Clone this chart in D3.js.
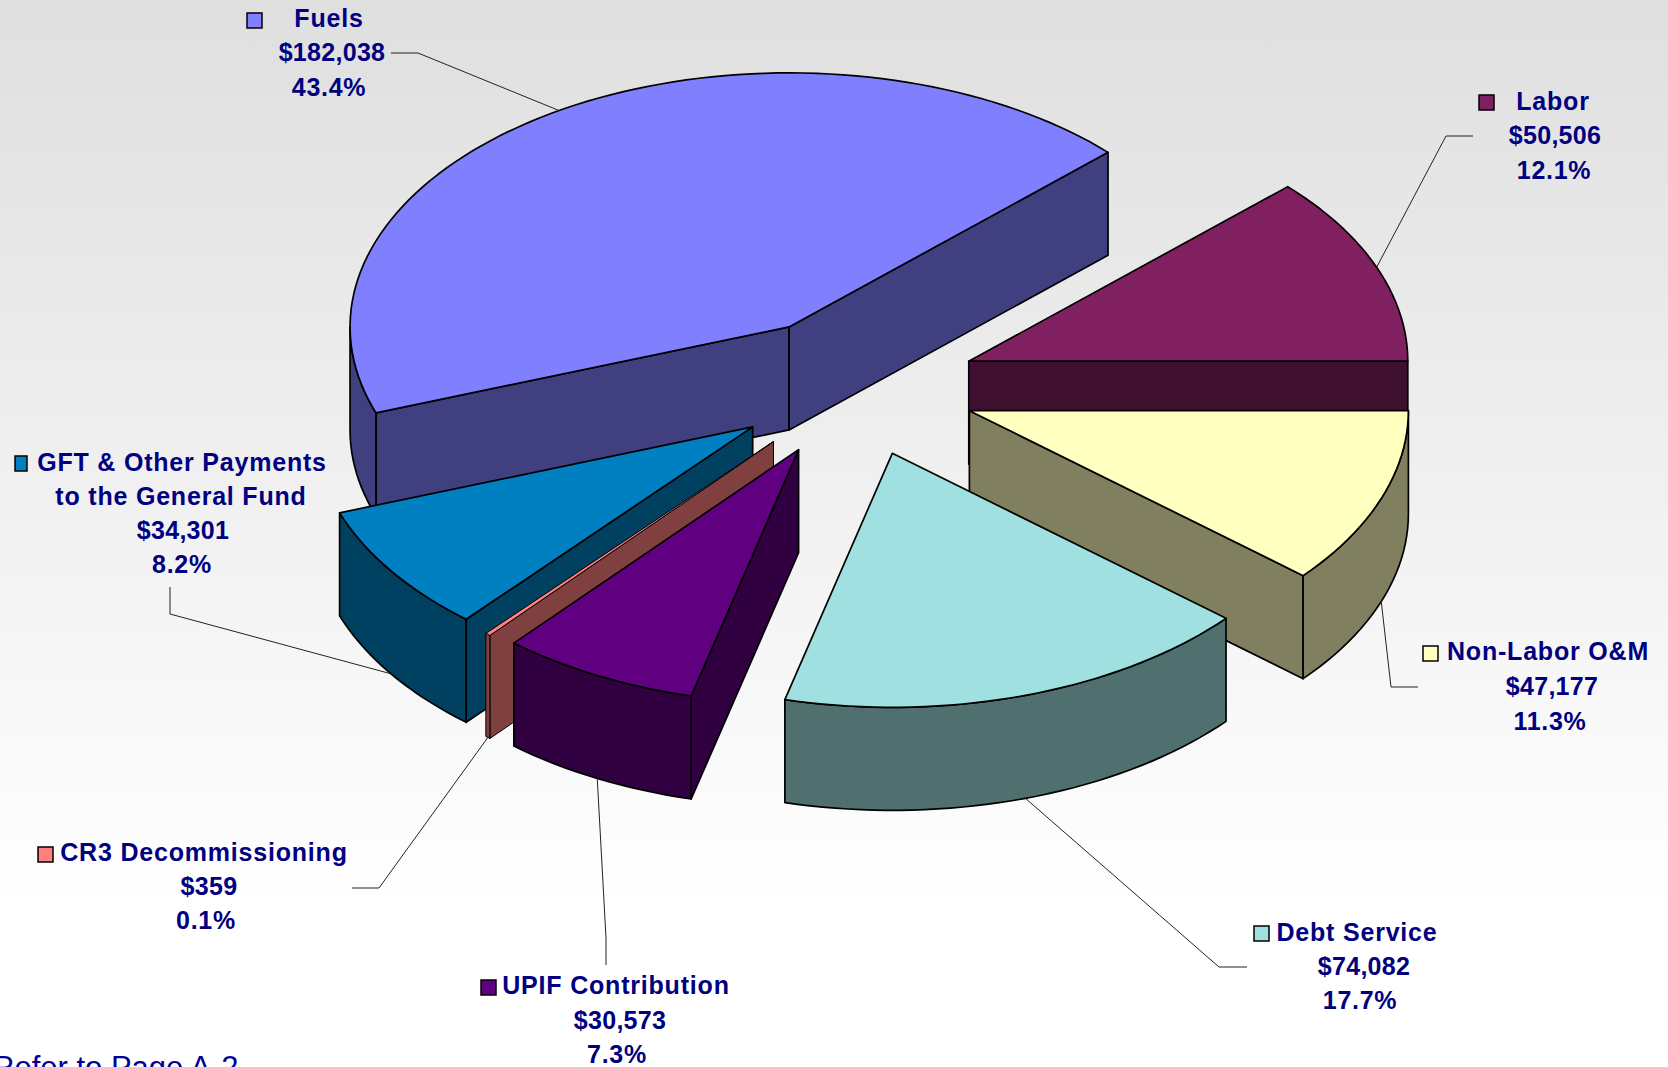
<!DOCTYPE html>
<html>
<head>
<meta charset="utf-8">
<script src="https://cdn.jsdelivr.net/npm/d3@7"></script>
<style>
	html, body { margin: 0; padding: 0; background: #fff; overflow: hidden; }
	svg { display: block; }
	.lbl { font-family: "Liberation Sans", Arial, sans-serif; font-weight: bold; font-size: 25px; fill: #000080; text-anchor: middle; }
	.note { font-family: "Liberation Sans", Arial, sans-serif; font-size: 31px; fill: #000099; }
</style>
</head>
<body>
<div id="chart"></div>
<script>
// data, clockwise in the order the pie is laid out
const categories = ['Labor', 'Non-Labor O&M', 'Debt Service', 'UPIF Contribution', 'CR3 Decommissioning', 'GFT & Other Payments', 'Fuels'];
const amounts = [50506, 47177, 74082, 30573, 359, 34301, 182038];
const colors = ['#802060', '#ffffc0', '#a0e0e0', '#600080', '#ff8080', '#0080c0', '#8080ff'];

// label placement, one entry per category: swatch corner and width, then centre of each text line
const labelTitles = [['Labor'], ['Non-Labor O&M'], ['Debt Service'], ['UPIF Contribution'], ['CR3 Decommissioning'], ['GFT & Other Payments', 'to the General Fund'], ['Fuels']];
const swatches = [[1479, 95, 15], [1423, 646, 15], [1254, 926, 15], [481, 980, 15], [38, 847, 15], [15, 456, 12], [247, 13, 15]];
const lineSpots = [
	[[1553, 101], [1555, 135], [1554, 170]],
	[[1548, 651], [1552, 686], [1550, 721]],
	[[1357, 932], [1364, 966], [1360, 1000]],
	[[616, 985], [620, 1020], [617, 1054]],
	[[204, 852], [209, 886], [206, 920]],
	[[182, 462], [181, 496], [183, 530], [182, 564]],
	[[329, 18], [332, 52], [329, 87]]
];
// leader lines: outer end, then elbow. the last point comes from the slice itself
const leaders = [
	[[1473, 136], [1446, 136]],
	[[1418, 687], [1391, 687]],
	[[1247, 967], [1219, 967]],
	[[606, 965], [606, 938]],
	[[352, 888], [379, 888]],
	[[170, 587], [170, 614]],
	[[391, 53], [418, 53]]
];
// small per-slice corrections to the exploded position
const nudges = [[1, 0], [0.5, -1.5], [1.5, -2], [1.5, -1], [0, 0], [0.5, -1], [0, 0]];

const width = 1668, height = 1067;
const cx = 853.5, cy = 387.5;	// pie centre before exploding
const rx = 439, ry = 254;	// top ellipse
const explode = 123;
const depth = 103;
const startDeg = 46.6;		// d3 angle of the first slice
const minSweep = 0.7 * Math.PI / 180;	// keeps the tiny CR3 slice visible

const total = d3.sum(amounts);
const fmtMoney = d3.format('$,');
const fmtPct = d3.format('.1%');

const svg = d3.select('#chart').append('svg').attr('width', width).attr('height', height);

// background
const grad = svg.append('defs').append('linearGradient')
	.attr('id', 'bg').attr('x1', 0).attr('y1', 0).attr('x2', 0).attr('y2', 1);
grad.append('stop').attr('offset', 0).attr('stop-color', '#dfdfdf');
grad.append('stop').attr('offset', 0.85).attr('stop-color', '#ffffff');
svg.append('rect').attr('width', width).attr('height', height).attr('fill', 'url(#bg)');

const pie = d3.pie().sort(null).startAngle(startDeg * Math.PI / 180).endAngle((startDeg + 360) * Math.PI / 180);
const slices = pie(amounts).map((d, i) => {
	// screen angle, 0 = 3 o'clock, growing clockwise
	const mid = (d.startAngle + d.endAngle) / 2 - Math.PI / 2;
	const half = Math.max((d.endAngle - d.startAngle) / 2, minSweep / 2);
	return {
		i, a0: mid - half, a1: mid + half, mid,
		ox: cx + explode * Math.cos(mid) + nudges[i][0],
		oy: cy + explode * (ry / rx) * Math.sin(mid) + nudges[i][1]
	};
});

const rim = (s, a, dz) => [s.ox + rx * Math.cos(a), s.oy + ry * Math.sin(a) + (dz || 0)];
const sweep = (s, a0, a1, dz) => {
	const n = Math.max(2, Math.ceil((a1 - a0) / 0.03));
	return d3.range(n + 1).map(k => rim(s, a0 + (a1 - a0) * k / n, dz));
};
const line = d3.line();
const shade = c => { const r = d3.rgb(c); return d3.rgb(r.r / 2, r.g / 2, r.b / 2).formatHex(); };

function sideFaces(s) {
	const faces = [];
	// radial walls, only when they face the viewer
	if (Math.sin(s.a0 - Math.PI / 2) > 0) {
		faces.push([[s.ox, s.oy], rim(s, s.a0), rim(s, s.a0, depth), [s.ox, s.oy + depth]]);
	}
	if (Math.sin(s.a1 + Math.PI / 2) > 0) {
		faces.push([[s.ox, s.oy], rim(s, s.a1), rim(s, s.a1, depth), [s.ox, s.oy + depth]]);
	}
	// curved wall, the front half of the ellipse
	const lo = Math.max(s.a0, 0);
	const hi = Math.min(s.a1, Math.PI);
	if (hi > lo) {
		faces.push(sweep(s, lo, hi).concat(sweep(s, lo, hi, depth).reverse()));
	}
	return faces;
}

// painter's order, back to front
const drawOrder = [6, 0, 1, 5, 4, 3, 2];
const pieG = svg.append('g').attr('stroke', '#000').attr('stroke-linejoin', 'round');
drawOrder.forEach(i => {
	const s = slices[i];
	const thin = amounts[i] / total < 0.005;
	const g = pieG.append('g').attr('stroke-width', thin ? 1 : 1.7);
	g.selectAll('path.side').data(sideFaces(s)).enter().append('path')
		.attr('class', 'side')
		.attr('d', f => line(f) + 'Z')
		.attr('fill', shade(colors[i]));
	g.append('path')
		.attr('class', 'top')
		.attr('d', line([[s.ox, s.oy]].concat(sweep(s, s.a0, s.a1))) + 'Z')
		.attr('fill', colors[i]);
});

// leader lines, ending on the rim at the middle of the slice
slices.forEach(s => {
	const end = rim(s, s.mid, Math.sin(s.mid) > 0 ? depth : 0);
	svg.append('path')
		.attr('d', line(leaders[s.i].concat([end])))
		.attr('fill', 'none').attr('stroke', '#222').attr('stroke-width', 1);
});

// labels
categories.forEach((c, i) => {
	const titles = labelTitles[i];
	const texts = titles.concat([fmtMoney(amounts[i]), fmtPct(amounts[i] / total)]);
	svg.append('rect')
		.attr('x', swatches[i][0]).attr('y', swatches[i][1])
		.attr('width', swatches[i][2]).attr('height', 15)
		.attr('fill', colors[i]).attr('stroke', '#000').attr('stroke-width', 1.5);
	svg.selectAll(null).data(texts).enter().append('text')
		.attr('class', 'lbl')
		.attr('x', (d, k) => lineSpots[i][k][0])
		.attr('y', (d, k) => lineSpots[i][k][1])
		.attr('dy', '0.36em')
		.attr('letter-spacing', (d, k) => k < titles.length ? 0.8 : (k === titles.length ? 0.3 : 0.7))
		.text(d => d);
});

svg.append('text').attr('class', 'note').attr('x', -8).attr('y', 1078).text('Refer to Page A-2');
</script>
</body>
</html>
